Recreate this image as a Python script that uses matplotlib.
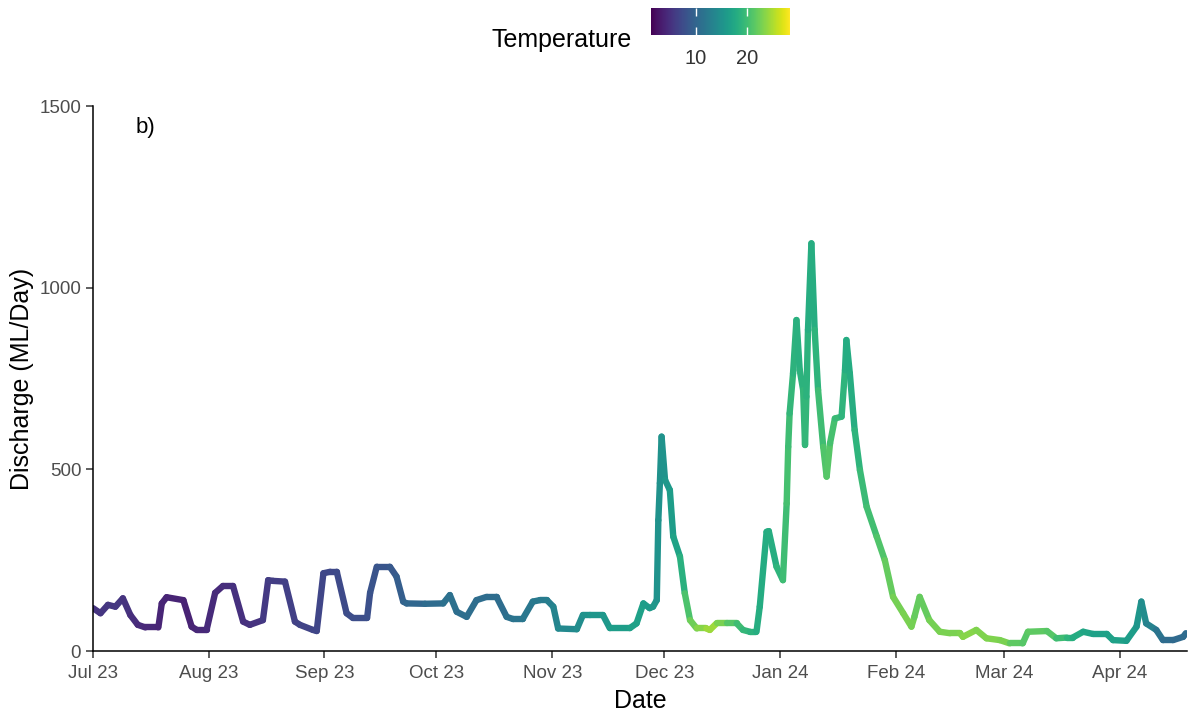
import numpy as np
import pandas as pd
import matplotlib
matplotlib.use("Agg")
from matplotlib import pyplot as plt
import matplotlib.dates as mdates
from matplotlib.collections import LineCollection
from matplotlib.colors import Normalize

plt.rcParams['font.family'] = ['Liberation Sans', 'DejaVu Sans']

# 날짜, 유량(ML/Day), 수온
dates = [
    '2023-07-01', '2023-07-03', '2023-07-05', '2023-07-07', '2023-07-09', '2023-07-11',
    '2023-07-13', '2023-07-15', '2023-07-18 12:00', '2023-07-19 10:00', '2023-07-20 17:00',
    '2023-07-25 05:00', '2023-07-27 10:00', '2023-07-28 19:00', '2023-07-31 10:00',
    '2023-08-02 17:00', '2023-08-04 19:00', '2023-08-07 12:00', '2023-08-10 05:00',
    '2023-08-12', '2023-08-15 12:00', '2023-08-16 22:00', '2023-08-18 05:00',
    '2023-08-21 10:00', '2023-08-24 02:00', '2023-08-25 10:00', '2023-08-28 22:00',
    '2023-08-29 22:00', '2023-08-31 17:00', '2023-09-02 12:00', '2023-09-04 07:00',
    '2023-09-06 22:00', '2023-09-08 14:00', '2023-09-12 10:00', '2023-09-13 05:00',
    '2023-09-15', '2023-09-18 12:00', '2023-09-20 07:00', '2023-09-22 02:00',
    '2023-09-23', '2023-09-27 22:00', '2023-10-02 19:00', '2023-10-04 14:00',
    '2023-10-06 10:00', '2023-10-09 02:00', '2023-10-11 17:00', '2023-10-14 10:00',
    '2023-10-17 02:00', '2023-10-19 19:00', '2023-10-21 12:00', '2023-10-24 02:00',
    '2023-10-26 19:00', '2023-10-28 17:00', '2023-10-30 14:00', '2023-11-01 07:00',
    '2023-11-02 14:00', '2023-11-07 14:00', '2023-11-09 05:00', '2023-11-11 02:00',
    '2023-11-14 14:00', '2023-11-16 10:00', '2023-11-21 19:00', '2023-11-23 14:00',
    '2023-11-25 10:00', '2023-11-27 02:00', '2023-11-28', '2023-11-29',
    '2023-11-29 10:00', '2023-11-29 20:00', '2023-11-30 07:00', '2023-12-01 05:00',
    '2023-12-02 12:00', '2023-12-03 10:00', '2023-12-05 05:00', '2023-12-06 12:00',
    '2023-12-07 22:00', '2023-12-09 17:00', '2023-12-12 07:00', '2023-12-13 05:00',
    '2023-12-15', '2023-12-17 17:00', '2023-12-20 10:00', '2023-12-22 02:00',
    '2023-12-23 22:00', '2023-12-25 17:00', '2023-12-26 14:00', '2023-12-28 10:00',
    '2023-12-29', '2023-12-31 02:00', '2024-01-01 19:00', '2024-01-02 19:00',
    '2024-01-03 05:00', '2024-01-03 14:00', '2024-01-04 12:00', '2024-01-05 10:00',
    '2024-01-06 07:00', '2024-01-07 05:00', '2024-01-07 17:00', '2024-01-08 02:00',
    '2024-01-08 12:00', '2024-01-09 10:00', '2024-01-10 07:00', '2024-01-11 05:00',
    '2024-01-12 14:00', '2024-01-13 12:00', '2024-01-14 10:00', '2024-01-15 17:00',
    '2024-01-17 12:00', '2024-01-18 10:00', '2024-01-18 19:00', '2024-01-19 17:00',
    '2024-01-21', '2024-01-22 10:00', '2024-01-24 05:00', '2024-01-26 22:00',
    '2024-01-29 02:00', '2024-01-31 07:00', '2024-02-03', '2024-02-05 05:00',
    '2024-02-06', '2024-02-07 10:00', '2024-02-10', '2024-02-12 19:00',
    '2024-02-15 12:00', '2024-02-18 05:00', '2024-02-19', '2024-02-22 14:00',
    '2024-02-25 07:00', '2024-02-28 22:00', '2024-03-02 12:00', '2024-03-06',
    '2024-03-07 10:00', '2024-03-12 12:00', '2024-03-15', '2024-03-17 19:00',
    '2024-03-19 10:00', '2024-03-22 05:00', '2024-03-24 19:00', '2024-03-28 12:00',
    '2024-03-30 05:00', '2024-04-02 19:00', '2024-04-05 12:00', '2024-04-06 19:00',
    '2024-04-08 02:00', '2024-04-10 19:00', '2024-04-12 14:00', '2024-04-15 07:00',
    '2024-04-18', '2024-04-18 17:00',
]
discharge = [
    118, 104, 127, 122, 145, 99, 72, 65, 65, 131, 148,
    140, 67, 58, 58, 160, 179, 179, 81, 72, 85, 195, 193,
    191, 81, 72, 58, 55, 214, 218, 218, 104, 91, 91, 160,
    232, 232, 205, 136, 131, 130, 131, 154, 108, 94, 140, 149,
    149, 94, 88, 88, 136, 140, 140, 122, 62, 60, 99, 99,
    99, 63, 63, 76, 131, 118, 122, 140, 360, 462, 590, 471,
    443, 315, 260, 159, 85, 62, 62, 58, 76, 76, 76, 58,
    53, 53, 122, 328, 330, 232, 195, 406, 562, 654, 764, 911,
    773, 718, 567, 700, 884, 1122, 884, 718, 562, 480, 572, 640,
    645, 773, 856, 764, 608, 498, 397, 315, 250, 149, 104, 67,
    94, 149, 85, 53, 49, 49, 39, 58, 35, 30, 21, 21,
    53, 55, 35, 37, 37, 53, 47, 47, 30, 28, 67, 136,
    76, 58, 30, 30, 39, 49,
]
temperature = [
    5.3, 5.3, 5.5, 5.5, 5.5, 5.0, 4.5, 4.5, 4.0, 4.0, 4.0,
    3.8, 3.8, 4.0, 4.5, 4.5, 4.5, 5.0, 5.0, 5.0, 5.5, 6.0, 6.0,
    6.3, 6.5, 6.5, 6.8, 6.8, 7.0, 7.0, 7.2, 7.5, 7.5, 7.8, 8.0,
    8.3, 8.5, 9.0, 9.5, 10.0, 10.5, 11.0, 11.5, 11.0, 11.0, 11.0, 10.8,
    10.8, 11.0, 11.5, 12.0, 12.0, 12.5, 12.5, 13.0, 14.0, 14.0, 15.0, 15.5,
    15.5, 16.0, 16.5, 17.0, 16.5, 16.0, 16.0, 15.5, 15.0, 15.0, 15.0, 15.5,
    16.0, 16.5, 17.5, 19.5, 22.0, 23.0, 24.0, 25.0, 24.0, 22.0, 20.5, 19.5,
    19.0, 18.5, 18.0, 18.0, 18.0, 18.5, 19.5, 20.5, 20.5, 19.5, 19.0, 18.5,
    18.5, 19.0, 19.5, 19.0, 18.5, 18.0, 18.5, 19.5, 20.5, 21.5, 21.0, 20.0,
    19.5, 18.5, 18.0, 18.0, 18.5, 19.5, 20.0, 20.5, 21.5, 22.5, 23.0, 23.0,
    22.5, 21.5, 22.5, 23.0, 23.0, 23.0, 23.5, 23.5, 23.0, 23.5, 22.5, 21.0,
    21.5, 22.0, 20.5, 19.5, 18.5, 17.5, 17.0, 16.5, 17.0, 16.5, 16.0, 15.0,
    14.0, 12.5, 11.0, 10.5, 10.5, 11.0,
]
month_ticks = pd.date_range('2023-07-01', '2024-04-01', freq='MS')

x = mdates.date2num(pd.to_datetime(dates, format='mixed'))
y = np.array(discharge, dtype=float)
t = np.array(temperature, dtype=float)

fig = plt.figure(figsize=(11.94, 7.15), dpi=100)
ax = fig.add_axes([0.0779, 0.0895, 0.9162, 0.7622])

pts = np.column_stack([x, y]).reshape(-1, 1, 2)
segs = np.concatenate([pts[:-1], pts[1:]], axis=1)
norm = Normalize(1.2, 28.5)
lc = LineCollection(segs, cmap='viridis', norm=norm, linewidths=4.6, capstyle='round', joinstyle='round')
lc.set_array((t[:-1] + t[1:]) / 2)
ax.add_collection(lc)

ax.set_xlim(x[0], x[-1] + 0.3)
ax.set_ylim(0, 1500)
ax.set_yticks([0, 500, 1000, 1500])
ax.set_xticks(mdates.date2num(month_ticks))
ax.xaxis.set_major_formatter(mdates.DateFormatter('%b %y'))
for s in ['top', 'right']:
    ax.spines[s].set_visible(False)
for s in ['left', 'bottom']:
    ax.spines[s].set_linewidth(1.1)
ax.tick_params(axis='both', length=5, width=1.1, labelsize=13.5, labelcolor='#4d4d4d', color='#333333')
ax.tick_params(axis='x', pad=5)
ax.set_xlabel('Date', fontsize=18, labelpad=5)
ax.set_ylabel('Discharge (ML/Day)', fontsize=18, labelpad=4)
ax.text(mdates.date2num(pd.Timestamp('2023-07-15')), 1440, 'b)', fontsize=16, ha='center', va='center')

# 범례 (색상 막대)
cax = fig.add_axes([0.5452, 0.951, 0.1164, 0.0378])
cb = fig.colorbar(lc, cax=cax, orientation='horizontal', ticks=[10, 20])
cb.outline.set_visible(False)
cax.tick_params(axis='x', direction='in', length=5.5, width=1, color='white', top=True,
                labelsize=14.5, labelcolor='#333333', pad=10)
cax.text(-0.14, -0.2, 'Temperature', transform=cax.transAxes, ha='right', va='center', fontsize=18)

plt.savefig('out.png', dpi=100)
